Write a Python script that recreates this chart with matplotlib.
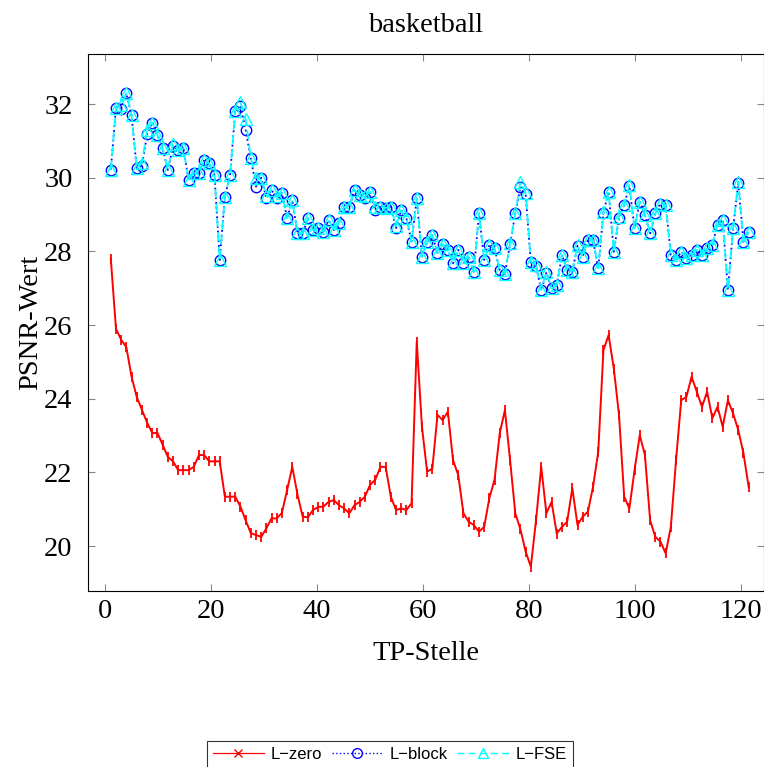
import numpy as np
import matplotlib
matplotlib.use("Agg")
import matplotlib.pyplot as plt
from matplotlib.lines import Line2D

# PSNR per TP position for the "basketball" sequence
psnr_zero = [
    27.80, 25.90, 25.60, 25.40, 24.60, 24.05, 23.70, 23.35, 23.07, 23.07,
    22.75, 22.42, 22.30, 22.06, 22.06, 22.06, 22.15, 22.47, 22.47, 22.30,
    22.30, 22.30, 21.34, 21.34, 21.34, 21.07, 20.70, 20.35, 20.30, 20.25,
    20.48, 20.75, 20.75, 20.90, 21.52, 22.15, 21.40, 20.80, 20.78, 20.98,
    21.06, 21.07, 21.20, 21.25, 21.11, 21.02, 20.89, 21.11, 21.20, 21.34,
    21.66, 21.80, 22.15, 22.15, 21.34, 20.98, 21.02, 20.98, 21.16, 25.55,
    23.24, 22.02, 22.10, 23.56, 23.42, 23.65, 22.33, 21.93, 20.89, 20.66,
    20.57, 20.39, 20.52, 21.30, 21.80, 23.06, 23.69, 22.33, 20.89, 20.45,
    19.85, 19.44, 20.70, 22.15, 20.89, 21.20, 20.34, 20.52, 20.66, 21.57,
    20.57, 20.80, 20.93, 21.61, 22.56, 25.32, 25.73, 24.82, 23.56, 21.34,
    21.02, 22.06, 23.01, 22.47, 20.70, 20.25, 20.12, 19.80, 20.52, 22.33,
    23.96, 24.05, 24.60, 24.19, 23.78, 24.19, 23.47, 23.78, 23.24, 23.96,
    23.60, 23.15, 22.52, 21.61,
]

psnr_block = [
    30.21, 31.90, 31.88, 32.29, 31.70, 30.26, 30.32, 31.18, 31.50, 31.16,
    30.80, 30.21, 30.85, 30.75, 30.80, 29.94, 30.12, 30.12, 30.48, 30.39,
    30.07, 27.77, 29.48, 30.07, 31.80, 31.95, 31.30, 30.53, 29.76, 30.00,
    29.44, 29.67, 29.44, 29.58, 28.90, 29.39, 28.49, 28.49, 28.90, 28.58,
    28.63, 28.54, 28.85, 28.58, 28.76, 29.21, 29.21, 29.67, 29.53, 29.44,
    29.62, 29.12, 29.21, 29.18, 29.21, 28.63, 29.12, 28.90, 28.26, 29.44,
    27.86, 28.26, 28.44, 27.95, 28.20, 28.04, 27.68, 28.04, 27.68, 27.86,
    27.45, 29.03, 27.77, 28.17, 28.08, 27.50, 27.40, 28.20, 29.03, 29.75,
    29.55, 27.70, 27.60, 26.95, 27.42, 27.00, 27.09, 27.90, 27.50, 27.45,
    28.15, 27.86, 28.31, 28.31, 27.54, 29.05, 29.62, 27.99, 28.92, 29.26,
    29.78, 28.63, 29.35, 28.99, 28.49, 29.03, 29.30, 29.26, 27.90, 27.77,
    27.99, 27.81, 27.90, 28.04, 27.90, 28.08, 28.17, 28.72, 28.85, 26.95,
    28.63, 29.85, 28.26, 28.54,
]

psnr_fse = [
    30.21, 31.90, 31.97, 32.29, 31.70, 30.26, 30.40, 31.30, 31.50, 31.16,
    30.80, 30.21, 30.92, 30.75, 30.80, 29.94, 30.12, 30.12, 30.48, 30.39,
    30.07, 27.77, 29.48, 30.07, 31.82, 32.05, 31.60, 30.53, 30.00, 30.00,
    29.50, 29.67, 29.50, 29.58, 28.90, 29.39, 28.49, 28.49, 28.90, 28.58,
    28.63, 28.54, 28.85, 28.58, 28.76, 29.21, 29.21, 29.67, 29.53, 29.50,
    29.62, 29.20, 29.21, 29.18, 29.21, 28.70, 29.12, 28.90, 28.26, 29.44,
    27.86, 28.26, 28.44, 27.95, 28.20, 28.04, 27.68, 28.04, 27.68, 27.86,
    27.45, 29.03, 27.77, 28.17, 28.08, 27.50, 27.40, 28.22, 29.03, 29.89,
    29.58, 27.72, 27.63, 26.95, 27.45, 27.00, 27.09, 27.90, 27.50, 27.45,
    28.17, 27.86, 28.31, 28.31, 27.54, 29.08, 29.62, 27.99, 28.94, 29.26,
    29.80, 28.63, 29.35, 28.99, 28.49, 29.03, 29.30, 29.26, 27.90, 27.77,
    27.99, 27.81, 27.90, 28.04, 27.90, 28.08, 28.17, 28.72, 28.85, 26.95,
    28.63, 29.89, 28.26, 28.54,
]

# sample positions on the TP axis: evenly spaced from 1.1 to 121.5
tp = np.linspace(1.1, 121.5, len(psnr_zero))

x_ticks = [0, 20, 40, 60, 80, 100, 120]
y_ticks = [20, 22, 24, 26, 28, 30, 32]

plt.rcParams['font.family'] = ['Liberation Serif', 'DejaVu Serif']

fig = plt.figure(figsize=(7.64, 7.67), dpi=100)
ax = fig.add_axes([0.1152, 0.2295, 0.8848, 0.7001])

ax.plot(tp, psnr_zero, color='#ff0000', lw=1.4, marker='|', ms=7, mew=1.3)
ax.plot(tp, psnr_block, color='#0000ff', lw=1.3, ls=':', marker='o', ms=7.5,
        mfc='none', mec='#0000ff', mew=1.0)
ax.plot(tp, psnr_fse, color='#00ffff', lw=1.3, ls=(0, (5, 3)), marker='^', ms=8,
        mfc='none', mec='#00ffff', mew=1.0)

ax.set_xlim(-3.2, 124.4)
ax.set_ylim(18.78, 33.36)
ax.set_xticks(x_ticks)
ax.set_yticks(y_ticks)
ax.tick_params(direction='in', length=5, color='#888888', labelsize=20.5,
               top=True, right=True)
ax.tick_params(axis='y', pad=11)
ax.tick_params(axis='x', pad=6)
for side in ax.spines.values():
    side.set_linewidth(0.8)

ax.set_title('basketball', fontsize=20.5, pad=16)
ax.set_xlabel('TP-Stelle', fontsize=20.5, labelpad=12)
ax.set_ylabel('PSNR-Wert', fontsize=20.5, labelpad=1)

handles = [
    Line2D([], [], color='#ff0000', lw=0.9, marker='x', ms=6, mew=1.0),
    Line2D([], [], color='#0000ff', lw=1.0, ls=':', marker='o', ms=7,
           mfc='none', mew=1.0),
    Line2D([], [], color='#00ffff', lw=1.0, ls=(0, (5, 3)), marker='^', ms=7,
           mfc='none', mew=1.0),
]
leg = fig.legend(handles, ['L\u2212zero', 'L\u2212block', 'L\u2212FSE'],
                 loc='lower center', bbox_to_anchor=(0.51, -0.012), ncol=3,
                 frameon=True, fancybox=False, edgecolor='black',
                 prop={'family': 'Liberation Sans', 'size': 12},
                 handlelength=3.1, columnspacing=0.55, handletextpad=0.4,
                 borderpad=0.35)
leg.get_frame().set_linewidth(0.8)

fig.savefig('out.png', dpi=100)
